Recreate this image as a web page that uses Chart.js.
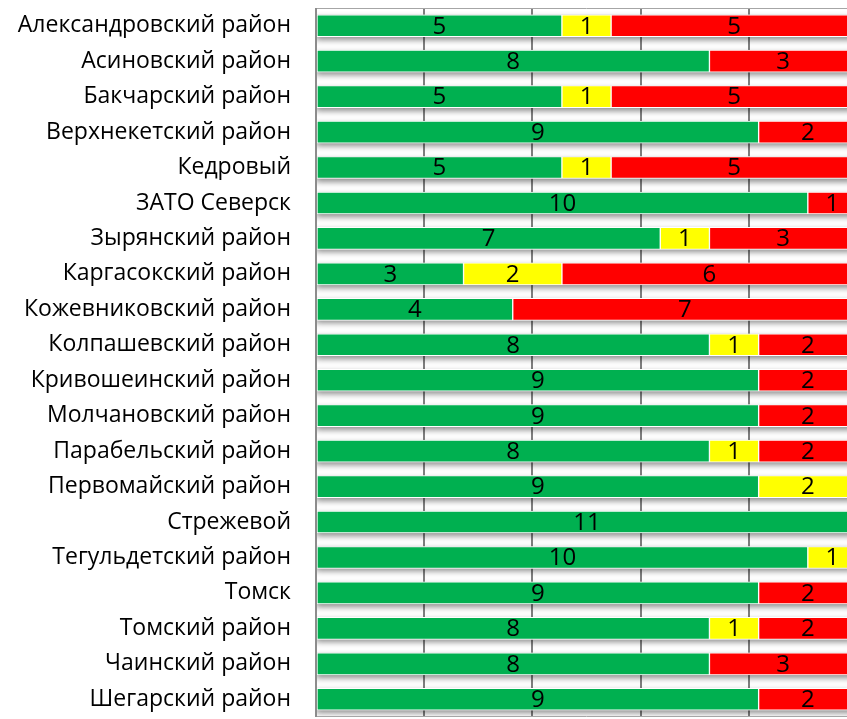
<!DOCTYPE html>
<html><head><meta charset="utf-8">
<script src="https://cdn.jsdelivr.net/npm/chart.js@4/dist/chart.umd.min.js"></script>
<style>
html,body{margin:0;padding:0;background:#fff;overflow:hidden;width:847px;height:719px;}
#wrap{position:absolute;left:0;top:0;width:872px;height:719px;}
</style></head>
<body><div id="wrap"><canvas id="c" width="872" height="719"></canvas></div>
<script>
const categories = ["Александровский район","Асиновский район","Бакчарский район","Верхнекетский район","Кедровый","ЗАТО Северск","Зырянский район","Каргасокский район","Кожевниковский район","Колпашевский район","Кривошеинский район","Молчановский район","Парабельский район","Первомайский район","Стрежевой","Тегульдетский район","Томск","Томский район","Чаинский район","Шегарский район"];
const greenCounts  = [5,8,5,9,5,10,7,3,4,8,9,9,8,9,11,10,9,8,8,9];
const yellowCounts = [1,0,1,0,1,0,1,2,0,1,0,0,1,2,0,1,0,1,0,0];
const redCounts    = [5,3,5,2,5,1,3,6,7,2,2,2,2,0,0,0,2,2,3,2];
const totalIndicators = 11;
const xTicksPercent = [0,20,40,60,80,100];

const FONT = "'Open Sans', sans-serif";
const toPct = arr => arr.map(v => v / totalIndicators * 100);

const shadowPlugin = {
  id:'shadowPlugin',
  beforeDatasetsDraw(chart){
    const ctx = chart.ctx;
    const a = chart.chartArea;
    const xs = chart.scales.x;
    const metas = chart.getSortedVisibleDatasetMetas();
    ctx.save();
    ctx.beginPath(); ctx.rect(a.left, a.top, a.right - a.left, a.bottom - a.top); ctx.clip();
    ctx.shadowColor = 'rgba(0,0,0,0.45)';
    ctx.shadowBlur = 6;
    ctx.shadowOffsetY = 3;
    ctx.fillStyle = '#bbbbbb';
    const m0 = metas[0];
    m0.data.forEach((el, i) => {
      const h = el.height;
      ctx.fillRect(xs.getPixelForValue(0), el.y - h/2, xs.getPixelForValue(100) - xs.getPixelForValue(0), h);
    });
    ctx.restore();
  },
  afterDatasetsDraw(chart){
    const ctx = chart.ctx;
    const a = chart.chartArea;
    ctx.save();
    ctx.font = "24px " + FONT;
    ctx.fillStyle = '#000';
    ctx.textAlign = 'center';
    ctx.textBaseline = 'middle';
    chart.getSortedVisibleDatasetMetas().forEach(meta => {
      const ds = chart.data.datasets[meta.index];
      meta.data.forEach((el, i) => {
        const v = ds.counts[i];
        if (!v) return;
        const cx = (el.x + el.base) / 2;
        ctx.fillText(String(v), cx, el.y + 1);
      });
    });
    ctx.restore();
    // frame
    ctx.save();
    ctx.strokeStyle = '#a6a6a6';
    ctx.lineWidth = 1;
    ctx.beginPath();
    ctx.moveTo(a.left, a.top + 0.5); ctx.lineTo(a.right, a.top + 0.5);
    ctx.moveTo(a.left, a.bottom - 0.5); ctx.lineTo(a.right, a.bottom - 0.5);
    ctx.stroke();
    ctx.strokeStyle = '#8c8c8c';
    ctx.lineWidth = 2;
    ctx.beginPath();
    ctx.moveTo(a.left, a.top); ctx.lineTo(a.left, a.bottom);
    ctx.stroke();
    ctx.restore();
  }
};

new Chart(document.getElementById('c'), {
  type:'bar',
  data:{
    labels: categories,
    datasets:[
      {label:'green', data: toPct(greenCounts), counts: greenCounts, backgroundColor:'#00B050', borderColor:'#ffffff', borderWidth:1, borderSkipped:false},
      {label:'yellow', data: toPct(yellowCounts), counts: yellowCounts, backgroundColor:'#FFFF00', borderColor:'#ffffff', borderWidth:1, borderSkipped:false},
      {label:'red', data: toPct(redCounts), counts: redCounts, backgroundColor:'#FF0000', borderColor:'#ffffff', borderWidth:1, borderSkipped:false}
    ]
  },
  options:{
    indexAxis:'y',
    responsive:false,
    animation:false,
    layout:{padding:{top:8,bottom:2,left:0,right:15}},
    plugins:{legend:{display:false},tooltip:{enabled:false}},
    scales:{
      x:{
        stacked:true, min:0, max:100,
        afterBuildTicks(scale){ scale.ticks = xTicksPercent.map(v => ({value:v})); },
        afterFit(scale){ scale.height = 0; scale.paddingLeft = 0; scale.paddingRight = 0; },
        ticks:{display:false},
        grid:{color:'#7f7f7f', lineWidth:2, drawTicks:false},
        border:{display:false}
      },
      y:{
        stacked:true,
        afterFit(scale){ scale.width = 316; scale.paddingTop = 0; scale.paddingBottom = 0; },
        ticks:{font:{family:FONT, size:23}, color:'#000', padding:25, autoSkip:false},
        grid:{display:false, drawTicks:false},
        border:{display:false}
      }
    },
    datasets:{bar:{barThickness:22}}
  },
  plugins:[shadowPlugin]
});
</script></body></html>
